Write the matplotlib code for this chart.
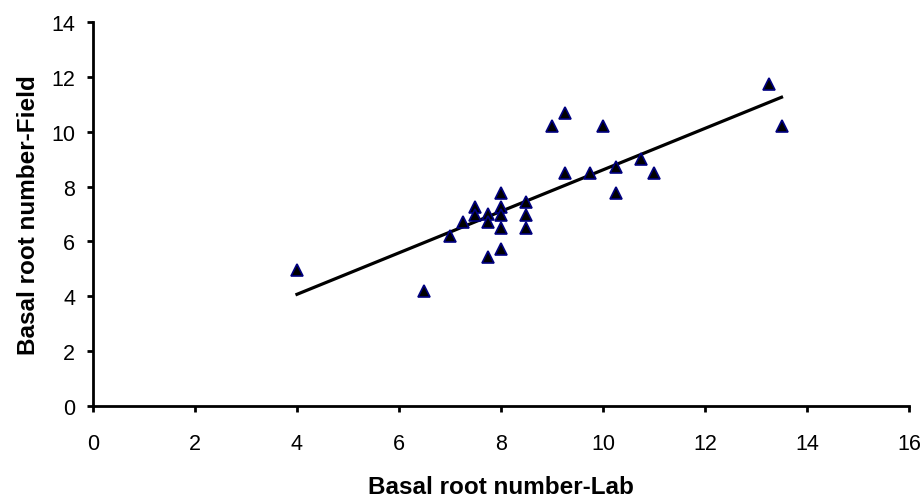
import numpy as np
import matplotlib
matplotlib.use("Agg")
import matplotlib.pyplot as plt

plt.rcParams['font.family'] = ['Liberation Sans', 'DejaVu Sans']

lab = [4.0, 6.5, 7.0, 7.25, 7.5, 7.5, 7.75, 7.75, 7.75, 8.0, 8.0, 8.0, 8.0, 8.0,
       8.5, 8.5, 8.5, 9.0, 9.25, 9.25, 9.75, 10.0, 10.25, 10.25, 10.75, 11.0, 13.25, 13.5]
field = [4.95, 4.2, 6.2, 6.7, 7.25, 6.95, 7.0, 6.7, 5.45, 7.75, 7.25, 6.95, 6.5, 5.72,
         7.45, 6.95, 6.5, 10.2, 10.7, 8.5, 8.5, 10.2, 8.7, 7.75, 9.0, 8.5, 11.75, 10.2]
x_ticks = [0, 2, 4, 6, 8, 10, 12, 14, 16]
y_ticks = [0, 2, 4, 6, 8, 10, 12, 14]

fig = plt.figure(figsize=(9.24, 5.02), dpi=100)
ax = fig.add_axes([0.1006, 0.1892, 0.8832, 0.7648])

x = np.array(lab)
y = np.array(field)
slope, intercept = np.polyfit(x, y, 1)
xl = np.array([x.min(), x.max()])
ax.plot(xl, slope * xl + intercept, color='black', lw=2.3, zorder=2)
ax.plot(x, y, linestyle='none', marker='^', markersize=9, markerfacecolor='black',
        markeredgecolor='#000080', markeredgewidth=1.2, zorder=3)

ax.set_xlim(0, 16)
ax.set_ylim(0, 14)
ax.set_xticks(x_ticks)
ax.set_yticks(y_ticks)
for s in ['top', 'right']:
    ax.spines[s].set_visible(False)
for s in ['left', 'bottom']:
    ax.spines[s].set_linewidth(2.0)
ax.tick_params(axis='both', direction='out', length=4.3, width=2.0, labelsize=15.5)
ax.tick_params(axis='x', pad=15)
ax.tick_params(axis='y', pad=8.5)
ax.set_xlabel('Basal root number-Lab', fontsize=17.5, fontweight='bold', labelpad=15)
ax.set_ylabel('Basal root number-Field', fontsize=17.5, fontweight='bold', labelpad=8)

fig.savefig('out.png', dpi=100)
